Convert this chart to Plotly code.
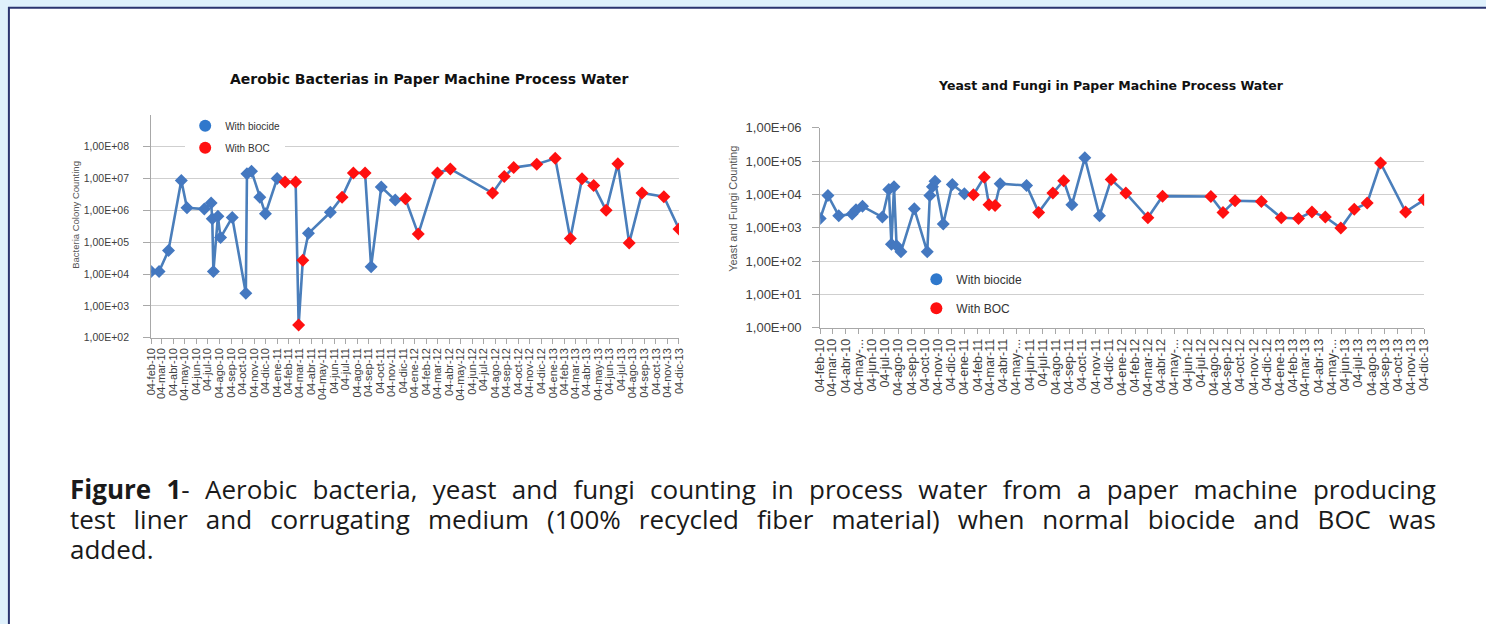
import plotly.graph_objects as go
import pandas as pd

# ---------------- DATA ----------------
# Aerobic bacteria (left chart)
bact_dates = [
    "2010-02-04", "2010-02-25", "2010-03-22", "2010-04-25", "2010-05-10", "2010-06-25",
    "2010-07-13", "2010-07-16", "2010-07-19", "2010-07-31", "2010-08-07", "2010-09-07",
    "2010-10-13", "2010-10-16", "2010-10-28", "2010-11-19", "2010-12-04", "2011-01-04",
    "2011-01-25", "2011-02-22", "2011-03-02", "2011-03-13", "2011-03-28", "2011-05-25",
    "2011-06-25", "2011-07-25", "2011-08-25", "2011-09-10", "2011-10-07", "2011-11-13",
    "2011-12-10", "2012-01-13", "2012-03-04", "2012-04-07", "2012-07-28", "2012-08-28",
    "2012-09-22", "2012-11-22", "2013-01-10", "2013-02-19", "2013-03-22", "2013-04-22",
    "2013-05-25", "2013-06-25", "2013-07-25", "2013-08-28", "2013-10-25", "2013-12-04",
]
bact_values = [
    1.2e4, 1.2e4, 5.5e4, 8.7e6, 1.2e6, 1.1e6,
    1.7e6, 5.5e5, 1.2e4, 6.5e5, 1.4e5, 6.0e5,
    2.5e3, 1.4e7, 1.7e7, 2.6e6, 7.8e5, 1.0e7,
    7.8e6, 7.8e6, 2.5e2, 2.7e4, 1.9e5, 8.7e5,
    2.6e6, 1.5e7, 1.5e7, 1.7e4, 5.4e6, 2.1e6,
    2.3e6, 1.8e5, 1.5e7, 2.0e7, 3.5e6, 1.15e7,
    2.2e7, 2.8e7, 4.3e7, 1.3e5, 9.8e6, 6.0e6,
    1.0e6, 2.9e7, 9.5e4, 3.5e6, 2.7e6, 2.6e5,
]
# "B" = with biocide, "O" = with BOC
bact_treatment = [
    "B", "B", "B", "B", "B", "B",
    "B", "B", "B", "B", "B", "B",
    "B", "B", "B", "B", "B", "B",
    "O", "O", "O", "O", "B", "B",
    "O", "O", "O", "B", "B", "B",
    "O", "O", "O", "O", "O", "O",
    "O", "O", "O", "O", "O", "O",
    "O", "O", "O", "O", "O", "O",
]

# Yeast and fungi (right chart)
yeast_dates = [
    "2010-02-04", "2010-02-22", "2010-03-19", "2010-04-19", "2010-04-28", "2010-05-13",
    "2010-06-28", "2010-07-13", "2010-07-19", "2010-07-25", "2010-07-31", "2010-08-10",
    "2010-09-10", "2010-10-10", "2010-10-16", "2010-10-22", "2010-10-28", "2010-11-16",
    "2010-12-07", "2011-01-04", "2011-01-25", "2011-02-19", "2011-03-02", "2011-03-16",
    "2011-03-28", "2011-05-28", "2011-06-25", "2011-07-28", "2011-08-22", "2011-09-10",
    "2011-10-10", "2011-11-13", "2011-12-10", "2012-01-13", "2012-03-04", "2012-04-07",
    "2012-07-28", "2012-08-25", "2012-09-22", "2012-11-22", "2013-01-07", "2013-02-16",
    "2013-03-19", "2013-04-19", "2013-05-25", "2013-06-25", "2013-07-25", "2013-08-25",
    "2013-10-22", "2013-12-04",
]
yeast_values = [
    1.9e3, 9.3e3, 2.3e3, 2.6e3, 3.5e3, 4.4e3,
    2.1e3, 1.4e4, 3.2e2, 1.7e4, 2.9e2, 1.9e2,
    3.7e3, 1.9e2, 9.3e3, 1.7e4, 2.5e4, 1.3e3,
    2.0e4, 1.05e4, 9.8e3, 3.3e4, 4.9e3, 4.7e3,
    2.1e4, 1.85e4, 2.9e3, 1.1e4, 2.6e4, 4.9e3,
    1.26e5, 2.3e3, 2.8e4, 1.1e4, 2.0e3, 8.9e3,
    8.7e3, 2.9e3, 6.5e3, 6.2e3, 2.0e3, 1.9e3,
    3.0e3, 2.1e3, 9.8e2, 3.6e3, 5.5e3, 8.8e4,
    3.0e3, 6.9e3,
]
yeast_treatment = [
    "B", "B", "B", "B", "B", "B",
    "B", "B", "B", "B", "B", "B",
    "B", "B", "B", "B", "B", "B",
    "B", "B", "O", "O", "O", "O",
    "B", "B", "O", "O", "O", "B",
    "B", "B", "O", "O", "O", "O",
    "O", "O", "O", "O", "O", "O",
    "O", "O", "O", "O", "O", "O",
    "O", "O",
]

# Axis tick labels
month_ticks = pd.date_range("2010-02-04", "2013-12-04", freq=pd.DateOffset(months=1))
bact_ticktext = [
    "04-feb-10", "04-mar-10", "04-abr-10", "04-may-10", "04-jun-10", "04-jul-10",
    "04-ago-10", "04-sep-10", "04-oct-10", "04-nov-10", "04-dic-10", "04-ene-11",
    "04-feb-11", "04-mar-11", "04-abr-11", "04-may-11", "04-jun-11", "04-jul-11",
    "04-ago-11", "04-sep-11", "04-oct-11", "04-nov-11", "04-dic-11", "04-ene-12",
    "04-feb-12", "04-mar-12", "04-abr-12", "04-may-12", "04-jun-12", "04-jul-12",
    "04-ago-12", "04-sep-12", "04-oct-12", "04-nov-12", "04-dic-12", "04-ene-13",
    "04-feb-13", "04-mar-13", "04-abr-13", "04-may-13", "04-jun-13", "04-jul-13",
    "04-ago-13", "04-sep-13", "04-oct-13", "04-nov-13", "04-dic-13",
]
yeast_ticktext = [
    "04-feb-10", "04-mar-10", "04-abr-10", "04-may-...", "04-jun-10", "04-jul-10",
    "04-ago-10", "04-sep-10", "04-oct-10", "04-nov-10", "04-dic-10", "04-ene-11",
    "04-feb-11", "04-mar-11", "04-abr-11", "04-may-...", "04-jun-11", "04-jul-11",
    "04-ago-11", "04-sep-11", "04-oct-11", "04-nov-11", "04-dic-11", "04-ene-12",
    "04-feb-12", "04-mar-12", "04-abr-12", "04-may-...", "04-jun-12", "04-jul-12",
    "04-ago-12", "04-sep-12", "04-oct-12", "04-nov-12", "04-dic-12", "04-ene-13",
    "04-feb-13", "04-mar-13", "04-abr-13", "04-may-...", "04-jun-13", "04-jul-13",
    "04-ago-13", "04-sep-13", "04-oct-13", "04-nov-13", "04-dic-13",
]
bact_yticks = [1e2, 1e3, 1e4, 1e5, 1e6, 1e7, 1e8]
bact_yticktext = ["1,00E+02", "1,00E+03", "1,00E+04", "1,00E+05", "1,00E+06", "1,00E+07", "1,00E+08"]
yeast_yticks = [1e0, 1e1, 1e2, 1e3, 1e4, 1e5, 1e6]
yeast_yticktext = ["1,00E+00", "1,00E+01", "1,00E+02", "1,00E+03", "1,00E+04", "1,00E+05", "1,00E+06"]

legend_names = ["With biocide", "With BOC"]
caption_lines = [
    "<b>Figure 1</b>- Aerobic bacteria, yeast and fungi counting in process water from a paper machine producing",
    "test liner and corrugating medium (100% recycled fiber material) when normal biocide and BOC was",
    "added.",
]

# ---------------- STYLE / LAYOUT ----------------
W, H = 1486, 624
# positions are given in the reference picture's pixels; the photographed
# page lands slightly inset/scaled, so compensate
SX, OX = 0.989, 6.1
SY, OY = 0.976, 6.2
def px(x):
    return ((x - OX) / SX) / W
def py(y):
    return 1 - ((y - OY) / SY) / H

LINE_BLUE = "#4A7EBB"
MARK_BLUE = "#4478C0"
RED = "#FF1010"
LEG_BLUE = "#2F78CC"
color_map = {"B": MARK_BLUE, "O": RED}
FONT = "Liberation Sans, Arial, sans-serif"
TITLE_FONT = "DejaVu Sans, sans-serif"
CAP_FONT = "Open Sans, Noto Sans, sans-serif"

fig = go.Figure()

fig.add_trace(go.Scatter(
    x=bact_dates, y=bact_values, mode="lines+markers",
    line=dict(color=LINE_BLUE, width=2.6),
    marker=dict(symbol="diamond", size=10, color=[color_map[t] for t in bact_treatment]),
    xaxis="x", yaxis="y", showlegend=False, hoverinfo="x+y",
))
fig.add_trace(go.Scatter(
    x=yeast_dates, y=yeast_values, mode="lines+markers",
    line=dict(color=LINE_BLUE, width=2.6),
    marker=dict(symbol="diamond", size=10, color=[color_map[t] for t in yeast_treatment]),
    xaxis="x2", yaxis="y2", showlegend=False, hoverinfo="x+y",
))
# legend entries
for i, (name, col) in enumerate(zip(legend_names, [LEG_BLUE, RED])):
    fig.add_trace(go.Scatter(x=[None], y=[None], mode="markers", name=name,
                             legendgroup=f"a{i}",
                             marker=dict(symbol="circle", size=14, color=col),
                             xaxis="x", yaxis="y", legend="legend"))
for i, (name, col) in enumerate(zip(legend_names, [LEG_BLUE, RED])):
    fig.add_trace(go.Scatter(x=[None], y=[None], mode="markers", name=name,
                             legendgroup=f"b{i}",
                             marker=dict(symbol="circle", size=16, color=col),
                             xaxis="x2", yaxis="y2", legend="legend2"))

GRID = "#CFCFCF"
AXIS = "#A8A8A8"
TICKC = "#404040"

common_x = dict(
    type="date", range=["2010-02-04", "2013-12-04"],
    tickmode="array", tickvals=month_ticks, tickangle=-90,
    showgrid=False, showline=True, linecolor=AXIS, linewidth=1,
    ticks="outside", ticklen=5, tickcolor=AXIS, zeroline=False,
)

fig.update_layout(
    width=W, height=H,
    margin=dict(l=0, r=0, t=0, b=0),
    paper_bgcolor="#DFF1FC",
    plot_bgcolor="white",
    font=dict(family=FONT, color=TICKC),
    xaxis=dict(common_x, domain=[px(150), px(677)], anchor="y",
               ticktext=bact_ticktext, tickfont=dict(size=11, color=TICKC)),
    yaxis=dict(type="log", domain=[py(337), py(114)], range=[2, 9], anchor="x",
               tickmode="array", tickvals=bact_yticks, ticktext=bact_yticktext,
               tickfont=dict(size=10.5, color=TICKC),
               showgrid=True, gridcolor=GRID, gridwidth=1,
               showline=True, linecolor=AXIS, ticks="outside", ticklen=7,
               tickcolor=AXIS, zeroline=False, ticklabelstandoff=12),
    xaxis2=dict(common_x, domain=[px(818), px(1421)], anchor="y2",
                ticktext=yeast_ticktext, tickfont=dict(size=12.5, color=TICKC)),
    yaxis2=dict(type="log", domain=[py(327), py(127)], range=[0, 6], anchor="x2",
                tickmode="array", tickvals=yeast_yticks, ticktext=yeast_yticktext,
                tickfont=dict(size=13, color=TICKC),
                showgrid=True, gridcolor=GRID, gridwidth=1,
                showline=True, linecolor=AXIS, ticks="outside", ticklen=7,
                tickcolor=AXIS, zeroline=False, ticklabelstandoff=8),
    legend=dict(x=px(184), y=py(110.5), xanchor="left", yanchor="top",
                bgcolor="white", borderwidth=0, font=dict(size=10, color="#333333"),
                itemsizing="constant", tracegroupgap=3, entrywidth=150),
    legend2=dict(x=px(914), y=py(264), xanchor="left", yanchor="top",
                 bgcolor="rgba(255,255,255,0)", borderwidth=0,
                 font=dict(size=12, color="#333333"),
                 itemsizing="constant", tracegroupgap=10),
    shapes=[
        dict(type="rect", xref="paper", yref="paper", layer="below",
             x0=px(8), x1=1.05, y0=-0.05, y1=py(7),
             fillcolor="white", line=dict(color="#2B3570", width=2)),
    ],
    annotations=[
        dict(text="<b>Aerobic Bacterias in Paper Machine Process Water</b>",
             x=px(428), y=py(78), xref="paper", yref="paper", showarrow=False,
             xanchor="center", yanchor="middle",
             font=dict(family=TITLE_FONT, size=14, color="#111111")),
        dict(text="<b>Yeast and Fungi in Paper Machine Process Water</b>",
             x=px(1108), y=py(85), xref="paper", yref="paper", showarrow=False,
             xanchor="center", yanchor="middle",
             font=dict(family=TITLE_FONT, size=12.5, color="#111111")),
        dict(text="Bacteria Colony Counting", textangle=-90,
             x=px(75), y=py(214), xref="paper", yref="paper", showarrow=False,
             xanchor="center", yanchor="middle", font=dict(size=9.5, color="#555555")),
        dict(text="Yeast and Fungi Counting", textangle=-90,
             x=px(731), y=py(208), xref="paper", yref="paper", showarrow=False,
             xanchor="center", yanchor="middle", font=dict(size=11, color="#555555")),
        dict(text="<br>".join(caption_lines), x=px(67), y=py(468.5), xref="paper", yref="paper",
             showarrow=False, xanchor="left", yanchor="top", align="left",
             font=dict(family=CAP_FONT, size=26, color="#1a1a1a")),
    ],
)

post_js = """
var gd = document.getElementById('{plot_id}');
document.body.style.margin = '0';
document.body.style.overflow = 'hidden';
gd.style.position = 'fixed';
gd.style.left = '0px';
gd.style.top = '0px';
var targets = [1366, 1366];
gd.querySelectorAll('text.annotation-text').forEach(function (t) {
  if (t.textContent.indexOf('Figure 1') === 0) {
    var lines = t.querySelectorAll('tspan.line');
    for (var i = 0; i < lines.length; i++) {
      var ln = lines[i];
      ln.setAttribute('dy', (i * 30.2) + 'px');
      if (i < 2) {
        var w = ln.getComputedTextLength();
        var n = (ln.textContent.match(/ /g) || []).length;
        if (n > 0 && w < targets[i]) { ln.style.wordSpacing = ((targets[i] - w) / n) + 'px'; }
      }
    }
  }
});
"""

fig.write_html("out.html", post_script=post_js, config={"displayModeBar": False})
